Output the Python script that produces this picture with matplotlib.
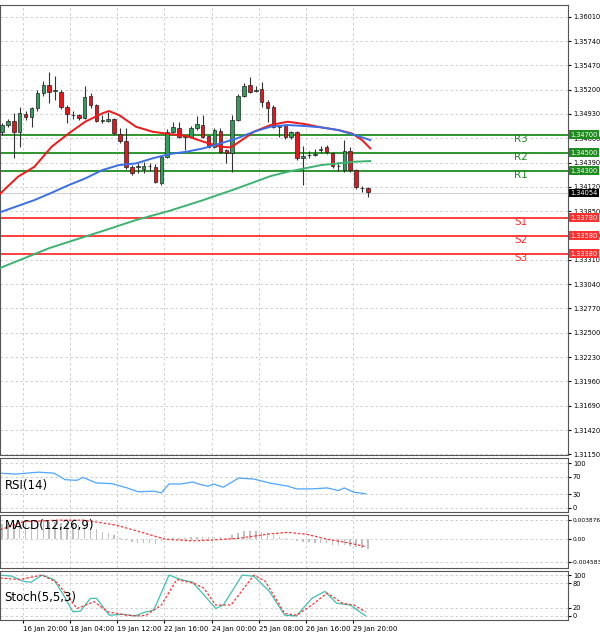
import matplotlib
matplotlib.use("Agg")
import matplotlib.pyplot as plt
import numpy as np

# ---- candle data (4H bars) ----
opens = [1.34733, 1.34807, 1.34855, 1.34733, 1.34929, 1.34892, 1.34992, 1.35166, 1.35251, 1.35190,
         1.35177, 1.35011, 1.34920, 1.34918, 1.34881, 1.35133, 1.35029, 1.34855, 1.34855, 1.34870,
         1.34703, 1.34629, 1.34344, 1.34340, 1.34314, 1.34352, 1.34344, 1.34166, 1.34455, 1.34733,
         1.34777, 1.34677, 1.34677, 1.34770, 1.34807, 1.34685, 1.34566, 1.34744, 1.34529, 1.34492,
         1.34863, 1.35133, 1.35251, 1.35190, 1.35203, 1.35059, 1.35011, 1.34788, 1.34807, 1.34670,
         1.34725, 1.34437, 1.34470, 1.34478, 1.34533, 1.34562, 1.34492, 1.34355, 1.34307, 1.34518,
         1.34307, 1.34111, 1.34103]
highs = [1.34830, 1.34870, 1.34937, 1.35011, 1.34960, 1.35010, 1.35200, 1.35300, 1.35400, 1.35352,
         1.35200, 1.35030, 1.34960, 1.34930, 1.35240, 1.35160, 1.35040, 1.34918, 1.34950, 1.34890,
         1.34777, 1.34770, 1.34360, 1.34381, 1.34400, 1.34381, 1.34370, 1.34470, 1.34760, 1.34844,
         1.34844, 1.34700, 1.34800, 1.34907, 1.34918, 1.34700, 1.34770, 1.34770, 1.34540, 1.34918,
         1.35150, 1.35270, 1.35337, 1.35240, 1.35288, 1.35080, 1.35030, 1.34810, 1.34820, 1.34740,
         1.34740, 1.34577, 1.34520, 1.34540, 1.34570, 1.34580, 1.34510, 1.34400, 1.34640, 1.34566,
         1.34320, 1.34130, 1.34120]
lows = [1.34700, 1.34790, 1.34437, 1.34566, 1.34860, 1.34788, 1.34960, 1.35130, 1.35048, 1.35085,
        1.34990, 1.34830, 1.34870, 1.34860, 1.34870, 1.35000, 1.34840, 1.34830, 1.34840, 1.34700,
        1.34610, 1.34320, 1.34250, 1.34270, 1.34280, 1.34300, 1.34160, 1.34140, 1.34440, 1.34720,
        1.34660, 1.34529, 1.34660, 1.34750, 1.34660, 1.34550, 1.34550, 1.34500, 1.34381, 1.34288,
        1.34850, 1.35120, 1.35160, 1.35170, 1.35011, 1.34844, 1.34770, 1.34677, 1.34650, 1.34655,
        1.34420, 1.34140, 1.34440, 1.34460, 1.34500, 1.34480, 1.34330, 1.34300, 1.34290, 1.34290,
        1.34100, 1.34060, 1.34011]
closes = [1.34807, 1.34855, 1.34733, 1.34937, 1.34892, 1.34992, 1.35166, 1.35251, 1.35177, 1.35200,
          1.35011, 1.34925, 1.34916, 1.34881, 1.35122, 1.35029, 1.34855, 1.34860, 1.34874, 1.34722,
          1.34629, 1.34344, 1.34270, 1.34348, 1.34355, 1.34356, 1.34177, 1.34455, 1.34733, 1.34781,
          1.34677, 1.34685, 1.34777, 1.34818, 1.34677, 1.34566, 1.34751, 1.34511, 1.34492, 1.34863,
          1.35133, 1.35244, 1.35177, 1.35200, 1.35059, 1.35000, 1.34788, 1.34795, 1.34670, 1.34725,
          1.34437, 1.34463, 1.34476, 1.34483, 1.34540, 1.34503, 1.34351, 1.34350, 1.34518, 1.34307,
          1.34114, 1.34108, 1.34059]

# moving averages (bar index, price)
ma_fast_x = [-0.4, 2.7, 5.5, 8.4, 11.3, 14.1, 17.0, 18.1, 19.8, 22.7, 25.5, 28.4, 31.3, 34.1, 37.0,
             38.7, 39.8, 42.7, 45.5, 48.4, 51.3, 54.1, 57.0, 59.3, 61.0, 62.4]
ma_fast_y = [1.34040, 1.34233, 1.34344, 1.34566, 1.34714, 1.34844, 1.34937, 1.34963, 1.34918, 1.34788,
             1.34733, 1.34707, 1.34685, 1.34622, 1.34566, 1.34559, 1.34603, 1.34733, 1.34807, 1.34844,
             1.34818, 1.34781, 1.34751, 1.34714, 1.34640, 1.34548]
ma_mid_x = [-0.4, 5.5, 8.4, 11.3, 14.1, 17.0, 19.8, 22.7, 25.5, 28.4, 31.3, 34.1, 37.0, 39.8, 42.7,
            45.5, 48.4, 51.3, 54.1, 57.0, 59.8, 62.4]
ma_mid_y = [1.33837, 1.33974, 1.34055, 1.34140, 1.34214, 1.34307, 1.34362, 1.34381, 1.34437, 1.34485,
            1.34511, 1.34548, 1.34603, 1.34659, 1.34733, 1.34788, 1.34807, 1.34796, 1.34781, 1.34751,
            1.34696, 1.34640]
ma_slow_x = [-0.4, 8.0, 17.5, 22.7, 28.4, 34.1, 39.8, 45.5, 48.4, 51.3, 54.1, 57.0, 59.8, 62.4]
ma_slow_y = [1.33218, 1.33440, 1.33640, 1.33752, 1.33855, 1.33974, 1.34103, 1.34240, 1.34288, 1.34326,
             1.34363, 1.34381, 1.34400, 1.34407]

res_levels = [1.34700, 1.34500, 1.34300]
res_names = ["R3", "R2", "R1"]
sup_levels = [1.33780, 1.33580, 1.33380]
sup_names = ["S1", "S2", "S3"]
last_price = 1.34054
price_ticks = [1.36010, 1.35740, 1.35470, 1.35200, 1.34930, 1.34660, 1.34390, 1.34120, 1.33850,
               1.33580, 1.33310, 1.33040, 1.32770, 1.32500, 1.32230, 1.31960, 1.31690, 1.31420, 1.31150]

rsi_x = [-0.3, 2.3, 6.2, 8.8, 10.7, 12.7, 13.7, 16.0, 18.6, 21.2, 23.1, 25.7, 27.0, 28.3, 30.3, 32.3,
         33.6, 34.9, 35.8, 37.5, 40.1, 42.7, 45.3, 48.5, 49.9, 52.5, 55.1, 57.0, 58.0, 59.6, 61.6]
rsi_y = [77.8, 75.6, 80.0, 77.8, 63.0, 61.6, 68.2, 55.6, 54.1, 44.4, 35.6, 37.1, 33.3, 53.3, 53.3, 57.8,
         52.0, 48.2, 53.3, 46.0, 66.7, 64.4, 55.6, 48.2, 42.2, 42.2, 44.4, 38.5, 44.4, 34.8, 31.1]

macd_hist = [0.0030, 0.0031, 0.0031, 0.0032, 0.0032, 0.0032, 0.0033, 0.0034, 0.0034, 0.0034,
             0.0033, 0.0032, 0.0031, 0.0029, 0.0027, 0.0025, 0.0020, 0.0015, 0.0012, 0.0008,
             0.0003, -0.0002, -0.0006, -0.0008, -0.0008, -0.0007, -0.0009, -0.0004, 0.0001, 0.0003,
             0.0003, 0.0003, 0.0004, 0.0005, 0.0005, 0.0004, 0.0005, 0.0004, 0.0002, 0.0008,
             0.0013, 0.0016, 0.0017, 0.0016, 0.0015, 0.0012, 0.0008, 0.0005, 0.0002, 0.0000,
             -0.0004, -0.0005, -0.0006, -0.0007, -0.0007, -0.0008, -0.0011, -0.0012, -0.0011, -0.0013,
             -0.0016, -0.0018, -0.0019]
macd_sig_x = [-0.3, 3.6, 9.4, 13.9, 19.2, 22.5, 27.7, 32.3, 35.5, 40.1, 45.3, 48.5, 51.8, 55.1, 58.3, 61.6]
macd_sig_y = [0.00193, 0.00354, 0.00386, 0.00386, 0.00289, 0.00180, 0.0, -0.00032, -0.00015, 0.00019,
              0.00109, 0.00141, 0.00096, 0.00000, -0.00064, -0.00148]

stoch_x = [-0.3, 1.6, 3.6, 4.9, 6.8, 8.8, 10.4, 12.0, 13.3, 15.0, 16.0, 18.2, 20.5, 22.5, 24.4, 25.7,
           28.3, 30.3, 32.3, 34.2, 36.2, 37.5, 40.7, 42.7, 45.3, 47.9, 49.9, 52.5, 54.7, 56.7, 59.0, 61.6]
stoch_k = [100, 97.5, 85, 82.5, 100, 89, 51.7, 10, 11.7, 43, 43, 1.7, 4, 0, 10, 14,
           100, 89, 82.5, 51.7, 18, 26.7, 100, 97, 60, 1.7, 0, 43, 60, 31, 26.7, 0]
stoch_dx = [-0.3, 2.9, 6.8, 9.4, 12.7, 15.6, 17.9, 21.2, 23.1, 24.4, 27.0, 29.6, 32.3, 34.2, 36.2,
            38.8, 42.7, 44.6, 47.9, 49.9, 52.5, 55.1, 57.7, 59.6, 61.6]
stoch_d = [93, 89, 100, 81, 18, 35, 10, 1.7, 0, 1.7, 26.7, 89, 81, 68, 26.7, 26.7, 100, 85, 6, 1.7,
           26.7, 56, 31, 26.7, 10]

date_pos = [-4.5, 3.5, 11.5, 19.5, 27.5, 35.5, 43.5, 51.5, 59.5]
date_labels = ["15 Jan 12:00", "16 Jan 20:00", "18 Jan 04:00", "19 Jan 12:00", "22 Jan 16:00",
               "24 Jan 00:00", "25 Jan 08:00", "26 Jan 16:00", "29 Jan 20:00"]

GREEN = "#1e8c1e"
RED = "#ff3030"
GRID = dict(color="#c8c8c8", linestyle=(0, (3, 3)), linewidth=0.6)
XL = (-0.34, 95.9)
TAGX = XL[1] + 0.4

fig = plt.figure(figsize=(6, 6.32), dpi=100)
W = 568 / 600
def panel(top, bottom):
    return fig.add_axes([0.0, 1 - bottom / 632, W, (bottom - top) / 632])

ax = panel(5, 455)
a_rsi = panel(458, 512)
a_macd = panel(515, 568)
a_st = panel(571, 620)

# candles
for i in range(len(opens)):
    o, h, l, c = opens[i], highs[i], lows[i], closes[i]
    ax.vlines(i, l, h, color="#333333", linewidth=0.8, zorder=3)
    col = "#2f9e5a" if c >= o else "#e8141c"
    lo, hi = min(o, c), max(o, c)
    ax.bar(i, max(hi - lo, 0.00002), bottom=lo, width=0.6, color=col,
           edgecolor="#222222", linewidth=0.5, zorder=4)

ax.plot(ma_fast_x, ma_fast_y, color="#f01818", linewidth=1.4, zorder=5)
ax.plot(ma_mid_x, ma_mid_y, color="#3a6fe8", linewidth=1.4, zorder=5)
ax.plot(ma_slow_x, ma_slow_y, color="#3cb371", linewidth=1.4, zorder=5)

for lv, nm in zip(res_levels, res_names):
    ax.axhline(lv, color=GREEN, linewidth=1.3, zorder=2)
    ax.text(88, lv - 0.00045, nm, color=GREEN, fontsize=7.5, ha="center", va="center")
    ax.text(TAGX, lv, f"{lv:.5f}", color="white", fontsize=4.8, va="center",
            bbox=dict(boxstyle="square,pad=0.2", fc=GREEN, ec="none"), clip_on=False, zorder=10)
for lv, nm in zip(sup_levels, sup_names):
    ax.axhline(lv, color=RED, linewidth=1.3, zorder=2)
    ax.text(88, lv - 0.00045, nm, color=RED, fontsize=7.5, ha="center", va="center")
    ax.text(TAGX, lv, f"{lv:.5f}", color="white", fontsize=4.8, va="center",
            bbox=dict(boxstyle="square,pad=0.2", fc=RED, ec="none"), clip_on=False, zorder=10)
ax.axhline(last_price, color="#d0d0d0", linewidth=0.8, zorder=1)
ax.text(TAGX, last_price, f"{last_price:.5f}", color="white", fontsize=4.8, va="center",
        bbox=dict(boxstyle="square,pad=0.2", fc="black", ec="none"), clip_on=False, zorder=10)

ax.set_yticks(price_ticks)
ax.set_yticklabels([f"{p:.5f}" for p in price_ticks])
ax.set_ylim(1.31143, 1.36140)

# RSI
a_rsi.plot(rsi_x, rsi_y, color="#4da6ff", linewidth=0.9)
a_rsi.set_yticks([0, 30, 70, 100])
a_rsi.set_ylim(-10, 112)
a_rsi.text(0.008, 0.5, "RSI(14)", transform=a_rsi.transAxes, fontsize=8.5, va="center")

# MACD
a_macd.bar(range(len(macd_hist)), macd_hist, width=0.25, color="#c0c0c0")
a_macd.plot(macd_sig_x, macd_sig_y, color="#ff3030", linewidth=0.9, linestyle=(0, (2, 1.5)))
a_macd.set_yticks([-0.004583, 0.0, 0.003876])
a_macd.set_yticklabels(["-0.004583", "0.00", "0.003876"])
a_macd.set_ylim(-0.0058, 0.0049)
a_macd.text(0.008, 0.8, "MACD(12,26,9)", transform=a_macd.transAxes, fontsize=8.5, va="center")

# Stochastic
a_st.plot(stoch_x, stoch_k, color="#40c0b0", linewidth=0.9)
a_st.plot(stoch_dx, stoch_d, color="#ff3030", linewidth=0.9, linestyle=(0, (2, 1.5)))
a_st.set_yticks([0, 20, 80, 100])
a_st.set_ylim(-10, 110)
a_st.text(0.008, 0.45, "Stoch(5,5,3)", transform=a_st.transAxes, fontsize=8.5, va="center")

for a in (ax, a_rsi, a_macd, a_st):
    a.set_xticks(date_pos)
    a.set_xlim(*XL)
    a.grid(True, **GRID)
    a.yaxis.tick_right()
    a.tick_params(axis="y", labelsize=4.8, length=2, pad=1.5)
    a.tick_params(axis="x", labelsize=5, length=2, pad=2)
    for s in a.spines.values():
        s.set_color("#555555")
        s.set_linewidth(0.8)
    if a is not a_st:
        a.tick_params(axis="x", labelbottom=False, length=0)
a_macd.tick_params(axis="y", labelsize=4.2, pad=1)
a_st.set_xticklabels(date_labels, ha="left")

fig.savefig("out.png", dpi=100)
